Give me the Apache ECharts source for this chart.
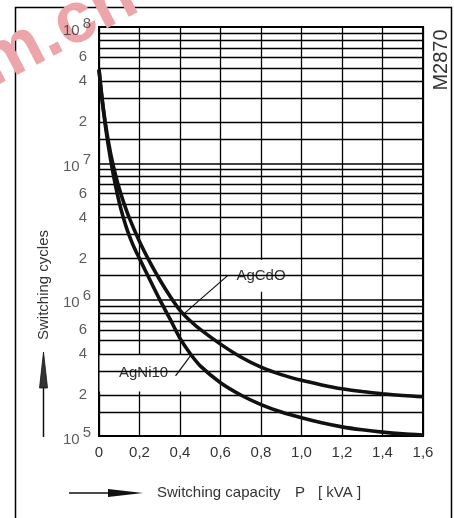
<!DOCTYPE html>
<html>
<head>
<meta charset="utf-8">
<script src="https://cdn.jsdelivr.net/npm/echarts/dist/echarts.min.js"></script>
<style>
html,body{margin:0;padding:0;background:#fff;}
#c{width:454px;height:518px;}
</style>
</head>
<body>
<div id="c"></div>
<script>
// ---------- data ----------
const xTickLabels = ['0','0,2','0,4','0,6','0,8','1,0','1,2','1,4','1,6'];

const agCdOX = [0, 0.01, 0.02, 0.03, 0.04, 0.05, 0.06, 0.08, 0.1, 0.12, 0.15, 0.2, 0.25, 0.3, 0.35, 0.4, 0.45, 0.5, 0.6, 0.7, 0.8, 0.9, 1.0, 1.1, 1.2, 1.3, 1.4, 1.5, 1.6];
const agCdOY = [4.88e7, 3.49e7, 2.62e7, 2.04e7, 1.64e7, 1.35e7, 1.13e7, 8.41e6, 6.53e6, 5.26e6, 3.96e6, 2.67e6, 1.9e6, 1.4e6, 1.065e6, 8.35e5, 7.0e5, 6.05e5, 4.72e5, 3.8e5, 3.2e5, 2.82e5, 2.56e5, 2.37e5, 2.22e5, 2.12e5, 2.04e5, 1.98e5, 1.94e5];

const agNi10X = [0, 0.01, 0.02, 0.03, 0.04, 0.05, 0.06, 0.08, 0.1, 0.12, 0.14, 0.16, 0.18, 0.2, 0.25, 0.3, 0.35, 0.4, 0.45, 0.5, 0.6, 0.7, 0.8, 0.9, 1.0, 1.1, 1.2, 1.3, 1.4, 1.5, 1.6];
const agNi10Y = [4.88e7, 3.45e7, 2.56e7, 1.96e7, 1.54e7, 1.24e7, 1.01e7, 7.03e6, 5.16e6, 4.0e6, 3.22e6, 2.69e6, 2.3e6, 2.0e6, 1.41e6, 1.0e6, 7.25e5, 5.2e5, 4.03e5, 3.27e5, 2.46e5, 2.0e5, 1.7e5, 1.5e5, 1.36e5, 1.25e5, 1.167e5, 1.11e5, 1.067e5, 1.037e5, 1.018e5];

const decadeValues = [1e5, 1e6, 1e7, 1e8];
const decadeExponents = ['5', '6', '7', '8'];
const minorLabelValues = [2e5, 4e5, 6e5, 2e6, 4e6, 6e6, 2e7, 4e7, 6e7];
const minorLabelTexts = ['2', '4', '6', '2', '4', '6', '2', '4', '6'];
const gridMantissas = [1.5, 2, 3, 4, 5, 6, 7, 8, 9];
const gridDecades = [1e5, 1e6, 1e7];

const curveNames = ['AgCdO', 'AgNi10'];
const labelAnchors = [[0.8, 1.5e6], [0.22, 2.9e5]];
const leaderFrom = [[0.635, 1.5e6], [0.378, 2.76e5]];
const leaderTo = [[0.42, 7.9e5], [0.455, 3.93e5]];

// ---------- chart ----------
const FAM = "'Liberation Sans',Arial,Helvetica,sans-serif";
const FS = 15;
const TXT = '#333';
const LINE = '#111';
const font = (size, weight) => (weight ? weight + ' ' : '') + size + 'px ' + FAM;

const gridLineValues = [];
gridDecades.forEach(d => gridMantissas.forEach(m => gridLineValues.push(+(m * d).toPrecision(3))));

const zip = (xs, ys) => xs.map((x, i) => [x, ys[i]]);

const chart = echarts.init(document.getElementById('c'), null, {renderer: 'canvas'});

const option = {
  animation: false,
  backgroundColor: '#fff',
  grid: {left: 99, right: 31, top: 27, bottom: 82, show: true, borderColor: '#000', borderWidth: 2, backgroundColor: 'transparent'},
  xAxis: {
    type: 'value', min: 0, max: 1.6, interval: 0.2,
    axisLine: {show: false}, axisTick: {show: false},
    axisLabel: {margin: 9, fontSize: FS, fontFamily: FAM, color: TXT,
      formatter: v => xTickLabels[Math.round(v / 0.2)]},
    splitLine: {show: true, lineStyle: {color: '#000', width: 1.3}}
  },
  yAxis: {
    type: 'log', logBase: 10, min: 1e5, max: 1e8,
    axisLine: {show: false}, axisTick: {show: false}, axisLabel: {show: false},
    splitLine: {show: true, lineStyle: {color: '#000', width: 1.6}}
  },
  series: [
    {
      name: 'grid', type: 'line', data: [], z: 1, silent: true,
      markLine: {
        silent: true, symbol: 'none', animation: false,
        label: {show: false},
        lineStyle: {color: '#000', width: 1.3, type: 'solid'},
        data: gridLineValues.map(v => ({yAxis: v}))
      }
    },
    {
      name: 'labelBoxes', type: 'scatter', z: 3, silent: true, clip: false,
      data: labelAnchors.map((p, i) => ({
        value: p, name: curveNames[i],
        symbolSize: i === 0 ? [79, 32] : [88, 37]
      })),
      symbol: 'rect',
      itemStyle: {color: '#fff', opacity: 1},
      label: {show: true, position: 'inside', formatter: p => p.name,
        fontSize: FS, fontFamily: FAM, color: TXT}
    },
    {
      name: 'leaders', type: 'lines', coordinateSystem: 'cartesian2d', z: 4, silent: true,
      data: leaderFrom.map((f, i) => ({coords: [f, leaderTo[i]]})),
      lineStyle: {color: LINE, width: 1.2, opacity: 1}
    },
    {
      name: curveNames[0], type: 'line', z: 5, silent: true,
      data: zip(agCdOX, agCdOY), smooth: 0.25, symbol: 'none',
      lineStyle: {color: LINE, width: 3.6}
    },
    {
      name: curveNames[1], type: 'line', z: 5, silent: true,
      data: zip(agNi10X, agNi10Y), smooth: 0.25, symbol: 'none',
      lineStyle: {color: LINE, width: 3.6}
    },
    {
      name: 'decadeLabels', type: 'scatter', z: 6, silent: true, clip: false,
      symbolSize: 0,
      data: decadeValues.map((v, i) => ({value: [0, v], name: decadeExponents[i]})),
      label: {
        show: true, position: 'left', distance: 8,
        formatter: p => '{b|10}{s|' + p.name + '}',
        rich: {
          b: {fontSize: FS, lineHeight: 16, fontFamily: FAM, color: TXT, padding: [7, 0, 0, 0]},
          s: {fontSize: FS, lineHeight: 16, fontFamily: FAM, color: TXT, padding: [0, 0, 7, 3]}
        }
      }
    },
    {
      name: 'minorLabels', type: 'scatter', z: 6, silent: true, clip: false,
      symbolSize: 0,
      data: minorLabelValues.map((v, i) => ({value: [0, v], name: minorLabelTexts[i]})),
      label: {
        show: true, position: 'left', distance: 12,
        formatter: p => p.name,
        fontSize: FS, fontFamily: FAM, color: TXT
      }
    }
  ],
  graphic: [
    {type: 'rect', silent: true, z: 0,
      shape: {x: 15.5, y: 7.5, width: 436, height: 540},
      style: {fill: 'none', stroke: '#000', lineWidth: 1.5}},
    // watermark (below tick labels)
    {type: 'text', silent: true, z: 1, x: 0, y: 102, rotation: 0.48,
      style: {text: 'm.cn', font: font(72, 'bold'), fill: '#eca5a9', textAlign: 'left', textVerticalAlign: 'bottom'}},
    // y-axis title and arrow
    {type: 'text', silent: true, x: 44, y: 285, rotation: Math.PI / 2,
      style: {text: 'Switching cycles', font: font(FS), fill: TXT, textAlign: 'center', textVerticalAlign: 'middle'}},
    {type: 'line', silent: true, shape: {x1: 43.5, y1: 437, x2: 43.5, y2: 385},
      style: {stroke: '#111', lineWidth: 1.5}},
    {type: 'polygon', silent: true, shape: {points: [[43.5, 352], [39.5, 388], [47.5, 388]]},
      style: {fill: '#333', stroke: '#111', lineWidth: 0.8}},
    // x-axis title and arrow
    {type: 'line', silent: true, shape: {x1: 69, y1: 493, x2: 110, y2: 493},
      style: {stroke: '#111', lineWidth: 1.5}},
    {type: 'polygon', silent: true, shape: {points: [[143, 493], [108, 489], [108, 497]]},
      style: {fill: '#111'}},
    {type: 'text', silent: true, x: 157, y: 493,
      style: {text: 'Switching capacity', font: font(FS), fill: TXT, textAlign: 'left', textVerticalAlign: 'middle'}},
    {type: 'text', silent: true, x: 295, y: 493,
      style: {text: 'P', font: font(FS), fill: TXT, textAlign: 'left', textVerticalAlign: 'middle'}},
    {type: 'text', silent: true, x: 318, y: 493,
      style: {text: '[ kVA ]', font: font(FS), fill: TXT, textAlign: 'left', textVerticalAlign: 'middle'}},
    // figure code
    {type: 'text', silent: true, x: 441, y: 60, rotation: Math.PI / 2,
      style: {text: 'M2870', font: font(20), fill: TXT, textAlign: 'center', textVerticalAlign: 'middle'}}
  ]
};
chart.setOption(option);
</script>
</body>
</html>
